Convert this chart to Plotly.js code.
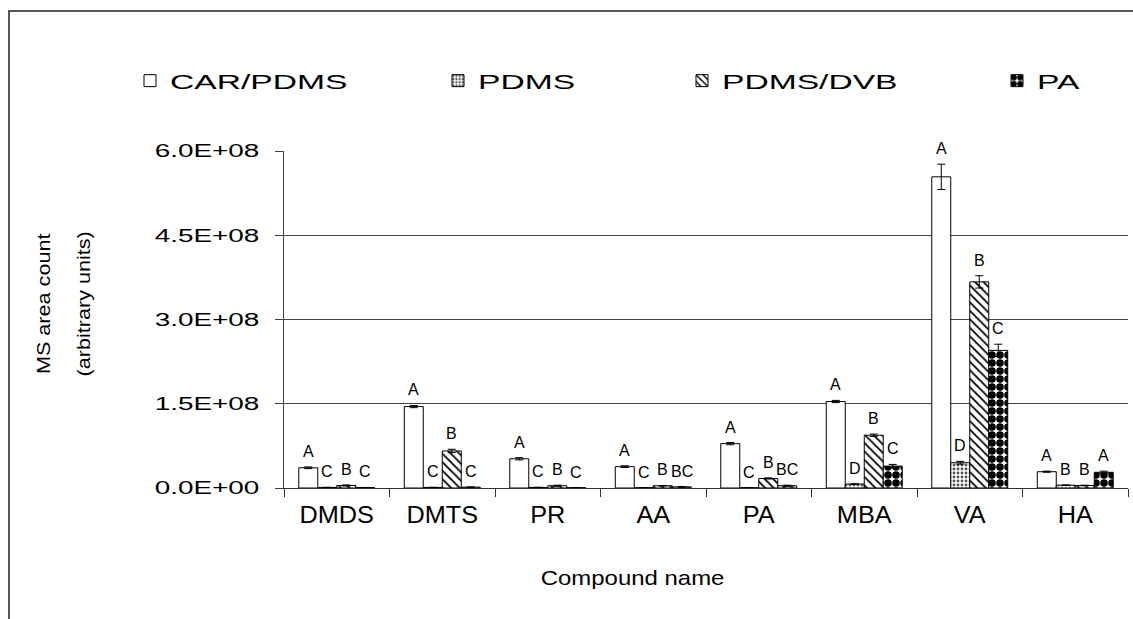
<!DOCTYPE html>
<html>
<head>
<meta charset="utf-8">
<script src="https://cdn.plot.ly/plotly-3.0.1.min.js"></script>
<style>
  html, body { margin: 0; padding: 0; background: #ffffff; }
  #chart { width: 1133px; height: 619px; }
</style>
</head>
<body>
<div id="chart"></div>
<script>
// Compounds on the x axis
const categories = ['DMDS', 'DMTS', 'PR', 'AA', 'PA', 'MBA', 'VA', 'HA'];

// Fibre coatings (one bar series each)
const seriesNames = ['CAR/PDMS', 'PDMS', 'PDMS/DVB', 'PA'];

// Mean MS peak area for each compound and fibre
const carPdmsValues = [36e6, 145e6, 52e6, 38e6, 79e6, 154e6, 554e6, 29e6];
const pdmsValues    = [1e6, 1e6, 1e6, 0.5e6, 0.5e6, 7e6, 45e6, 5e6];
const pdmsDvbValues = [4.5e6, 66e6, 4e6, 4e6, 17e6, 94e6, 367e6, 4.5e6];
const paValues      = [0.8e6, 1.5e6, 0.5e6, 2e6, 4e6, 39e6, 245e6, 28e6];

// Standard deviations (error bars)
const carPdmsErrors = [1.5e6, 2e6, 2e6, 1.5e6, 2e6, 2e6, 22.5e6, 1e6];
const pdmsErrors    = [0.3e6, 0.3e6, 0.3e6, 0.3e6, 0.3e6, 0.5e6, 2.5e6, 0.5e6];
const pdmsDvbErrors = [1e6, 3e6, 1e6, 0.5e6, 1e6, 2e6, 11e6, 0.5e6];
const paErrors      = [0.2e6, 0.5e6, 0.2e6, 0.5e6, 1e6, 3e6, 11e6, 2e6];

// Significance letters above each bar
const carPdmsLetters = ['A', 'A', 'A', 'A', 'A', 'A', 'A', 'A'];
const pdmsLetters    = ['C', 'C', 'C', 'C', 'C', 'D', 'D', 'B'];
const pdmsDvbLetters = ['B', 'B', 'B', 'B', 'B', 'B', 'B', 'B'];
const paLetters      = ['C', 'C', 'C', 'BC', 'BC', 'C', 'C', 'A'];

// Y axis ticks
const yTickValues = [0, 1.5e8, 3.0e8, 4.5e8, 6.0e8];
const yTickLabels = ['0.0E+00', '1.5E+08', '3.0E+08', '4.5E+08', '6.0E+08'];

const FONT = 'Liberation Sans, Arial, Helvetica, sans-serif';

const values  = [carPdmsValues, pdmsValues, pdmsDvbValues, paValues];
const errors  = [carPdmsErrors, pdmsErrors, pdmsDvbErrors, paErrors];
const letters = [carPdmsLetters, pdmsLetters, pdmsDvbLetters, paLetters];

// Fill style per coating
const markers = [
  { color: '#ffffff', line: { color: '#000000', width: 1 } },
  { color: '#ffffff', line: { color: '#000000', width: 1 },
    pattern: { shape: '.', fgcolor: '#555555', bgcolor: '#ffffff', size: 4, solidity: 0.4 } },
  { color: '#ffffff', line: { color: '#000000', width: 1 },
    pattern: { shape: '\\', fgcolor: '#000000', bgcolor: '#ffffff', size: 6, solidity: 0.3 } },
  { color: '#000000', line: { color: '#000000', width: 1 },
    pattern: { shape: '.', fgcolor: '#000000', bgcolor: '#ffffff', size: 8, solidity: 0.7 } }
];

// One legend box per coating so each entry can sit at its own spot
const legendIds = ['legend2', 'legend3', 'legend4', 'legend5'];

const traces = seriesNames.map((name, i) => ({
  type: 'bar',
  name: name,
  x: categories,
  y: values[i],
  marker: markers[i],
  error_y: { type: 'data', array: errors[i], visible: true, color: '#000000', thickness: 1, width: 4 },
  legend: legendIds[i],
  hoverinfo: 'skip'
}));

const bargap = 0.28;
const nSeries = seriesNames.length;
const barFrac = (1 - bargap) / nSeries;

// Letters sit just above each bar's error bar
const annotations = [];
seriesNames.forEach((name, i) => {
  categories.forEach((cat, j) => {
    annotations.push({
      x: j + (i - (nSeries - 1) / 2) * barFrac,
      y: values[i][j] + errors[i][j],
      xref: 'x', yref: 'y',
      text: letters[i][j],
      showarrow: false,
      xanchor: 'center', yanchor: 'bottom',
      yshift: 5,
      font: { family: FONT, size: 16, color: '#000000' }
    });
  });
});

// Two-line y axis title
const yTitleLines = ['MS area count', '(arbitrary units)'];
const yTitlePx = [44, 84];
yTitleLines.forEach((line, k) => {
  annotations.push({
    xref: 'paper', yref: 'paper',
    x: (yTitlePx[k] - 284) / 844, y: 0.545,
    text: line, textangle: -90, showarrow: false,
    xanchor: 'center', yanchor: 'middle',
    font: { family: FONT, size: 18, color: '#000000' }
  });
});

// X axis title
annotations.push({
  xref: 'paper', yref: 'paper',
  x: (632 - 284) / 844, y: (488 - 577) / 337,
  text: 'Compound name', showarrow: false,
  xanchor: 'center', yanchor: 'middle',
  font: { family: FONT, size: 21, color: '#000000' }
});

const legendTextStart = [170, 478, 722, 1037];
const legendFont = { family: FONT, size: 21, color: '#000000' };

const layout = {
  width: 1133,
  height: 619,
  margin: { l: 284, r: 5, t: 151, b: 131 },
  paper_bgcolor: '#ffffff',
  plot_bgcolor: '#ffffff',
  barmode: 'group',
  bargap: bargap,
  bargroupgap: 0,
  showlegend: true,
  font: { family: FONT, color: '#000000' },
  xaxis: {
    type: 'category',
    tickson: 'boundaries',
    ticks: 'outside',
    ticklen: 8,
    tickcolor: '#333333',
    showline: true,
    linecolor: '#333333',
    linewidth: 1,
    showgrid: false,
    tickfont: { family: FONT, size: 23, color: '#000000' },
    ticklabelstandoff: 6
  },
  yaxis: {
    range: [0, 6e8],
    tickvals: yTickValues,
    ticktext: yTickLabels,
    ticks: 'outside',
    ticklen: 8,
    tickcolor: '#444444',
    showline: true,
    linecolor: '#444444',
    linewidth: 1,
    showgrid: true,
    gridcolor: '#444444',
    gridwidth: 1,
    zeroline: false,
    tickfont: { family: FONT, size: 18, color: '#000000' },
    ticklabelstandoff: 12
  },
  annotations: annotations,
  shapes: [{
    type: 'path', xref: 'paper', yref: 'paper',
    path: 'M ' + ((9 - 284) / 844) + ' ' + ((488 - 640) / 337) +
          ' L ' + ((9 - 284) / 844) + ' ' + ((488 - 11) / 337) +
          ' L ' + ((1150 - 284) / 844) + ' ' + ((488 - 11) / 337),
    line: { color: '#222222', width: 1.5 }
  }]
};

legendIds.forEach((id, i) => {
  layout[id] = {
    orientation: 'h',
    x: (legendTextStart[i] - 40 - 284) / 844,
    xanchor: 'left',
    y: (488 - 81) / 337,
    yanchor: 'middle',
    bgcolor: 'rgba(0,0,0,0)',
    borderwidth: 0,
    font: legendFont
  };
});

// Widen selected labels horizontally, as drawn in the figure
function widen(nodes, factor) {
  nodes.forEach(el => {
    if (el.getAttribute('textLength')) return;
    let len = el.getComputedTextLength();
    if (!(len > 0)) {
      try { len = el.getBBox().width; } catch (e) { len = 0; }
    }
    if (len > 0) {
      el.setAttribute('textLength', (len * factor).toFixed(2));
      el.setAttribute('lengthAdjust', 'spacingAndGlyphs');
    }
  });
}

function styleLabels(gd) {
  widen(Array.from(gd.querySelectorAll('g.ytick text')), 1.55);
  widen(Array.from(gd.querySelectorAll('g.xtick text')), 1.1);
  const legendTexts = Array.from(gd.querySelectorAll('text')).filter(t => {
    const c = t.getAttribute('class') || '';
    return c.indexOf('legendtext') >= 0 || (t.closest && t.closest('[class*="legend"]') && seriesNames.indexOf(t.textContent) >= 0);
  });
  widen(legendTexts, 1.6);
  // let the widened legend entries show in full
  gd.querySelectorAll('[class*="legend"][clip-path], [class*="legend"] [clip-path], .scrollbox[clip-path]')
    .forEach(e => e.removeAttribute('clip-path'));
  const ann = gd.querySelectorAll('g.annotation');
  const n = ann.length;
  if (n >= 3) {
    // y title lines are slightly elongated, x title widened
    [n - 3, n - 2].forEach(k => widen(Array.from(ann[k].querySelectorAll('text.annotation-text')), 1.2));
    widen(Array.from(ann[n - 1].querySelectorAll('text.annotation-text')), 1.14);
  }
}

const gdEl = document.getElementById('chart');
Plotly.newPlot(gdEl, traces, layout, { staticPlot: true, displayModeBar: false }).then(gd => {
  styleLabels(gd);
  gd.on('plotly_afterplot', () => styleLabels(gd));
  let runs = 0;
  const timer = setInterval(() => {
    styleLabels(gd);
    if (++runs > 40) clearInterval(timer);
  }, 50);
  new MutationObserver(() => styleLabels(gd)).observe(gd, { childList: true, subtree: true });
});
</script>
</body>
</html>
